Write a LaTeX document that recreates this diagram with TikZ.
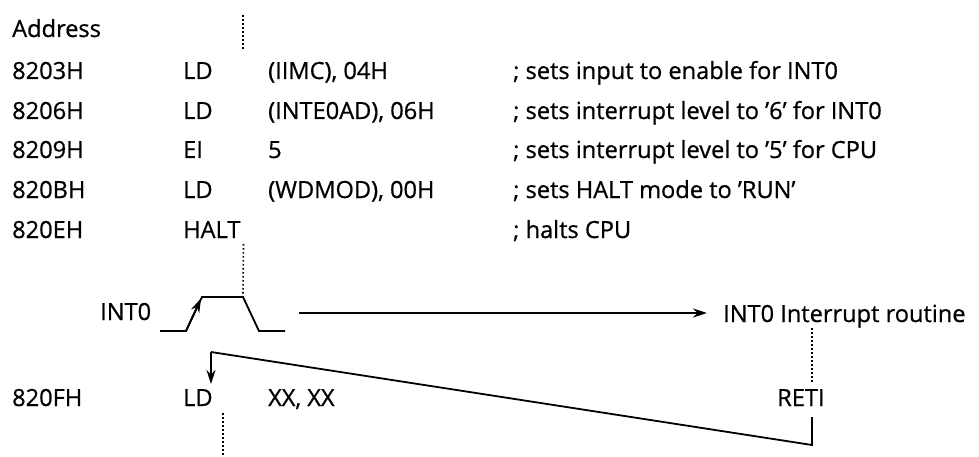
\documentclass[tikz,border=0pt]{standalone}
\usepackage{fontspec}
\setmainfont{Open Sans}[FakeBold=0.7]
\usetikzlibrary{arrows.meta}
\begin{document}
\begin{tikzpicture}[x=1pt,y=-1pt,
  txt/.style={anchor=base west,inner sep=0pt,font=\fontsize{23.6}{27}\selectfont},
  wire/.style={line width=1.8pt},
  dots/.style={line width=1.6pt,dash pattern=on 1.6pt off 2.4pt},
  tip/.style={-{Stealth[length=14pt,width=9pt]}}]
\useasboundingbox (0,0) rectangle (979,457);
% program listing
\node[txt] (hdr) at (12,37) {Address};
\node[txt] (a1) at (12,79) {8203H};
\node[txt] (m1) at (183,79) {LD};
\node[txt] (o1) at (268,79) {(IIMC), 04H};
\node[txt] (c1) at (513,79) {; sets input to enable for INT0};
\node[txt] (a2) at (12,119) {8206H};
\node[txt] (m2) at (183,119) {LD};
\node[txt] (o2) at (268,119) {(INTE0AD), 06H};
\node[txt] (c2) at (513,119) {; sets interrupt level to ’6’ for INT0};
\node[txt] (a3) at (12,158) {8209H};
\node[txt] (m3) at (183,158) {EI};
\node[txt] (o3) at (268,158) {5};
\node[txt] (c3) at (513,158) {; sets interrupt level to ’5’ for CPU};
\node[txt] (a4) at (12,198) {820BH};
\node[txt] (m4) at (183,198) {LD};
\node[txt] (o4) at (268,198) {(WDMOD), 00H};
\node[txt] (c4) at (513,198) {; sets HALT mode to ’RUN’};
\node[txt] (a5) at (12,238) {820EH};
\node[txt] (m5) at (183,238) {HALT};
\node[txt] (c5) at (513,238) {; halts CPU};
% interrupt request
\node[txt] (irq) at (100,320) {INT0};
\node[txt] (isr) at (723,322) {INT0 Interrupt routine};
\node[txt] (reti) at (777,406) {RETI};
% resumed instruction
\node[txt] (a6) at (12,406) {820FH};
\node[txt] (m6) at (183,406) {LD};
\node[txt] (o6) at (268,406) {XX, XX};
% pulse waveform
\coordinate (p0) at (160,331);
\coordinate (p1) at (186,331);
\coordinate (p2) at (202,297);
\coordinate (p3) at (243,297);
\coordinate (p4) at (259,331);
\coordinate (p5) at (285,331);
\coordinate (rise) at (201,298.5);
\draw[wire] (p0) -- (p1) -- (p2) -- (p3) -- (p4) -- (p5);
\draw[wire,tip] (p1) -- (rise);
% jump to the interrupt routine
\coordinate (go) at (299,313);
\coordinate (goend) at (707,313);
\draw[wire,tip] (go) -- (goend);
% return path
\coordinate (r0) at (812,417);
\coordinate (r1) at (812,445);
\coordinate (r2) at (211,352);
\coordinate (r3) at (211,384);
\draw[wire] (r0) -- (r1) -- (r2);
\draw[wire,tip] (r2) -- (r3);
% program flow (dotted)
\coordinate (d0) at (243,15);
\coordinate (d1) at (243,50);
\coordinate (h0) at (243.5,244);
\coordinate (e0) at (812,328);
\coordinate (e1) at (812,383);
\coordinate (b0) at (223,413);
\coordinate (b1) at (223,457);
\draw[dots] (d0) -- (d1);
\draw[dots] (h0) -- (p3);
\draw[dots] (e0) -- (e1);
\draw[dots] (b0) -- (b1);
\end{tikzpicture}
\end{document}
